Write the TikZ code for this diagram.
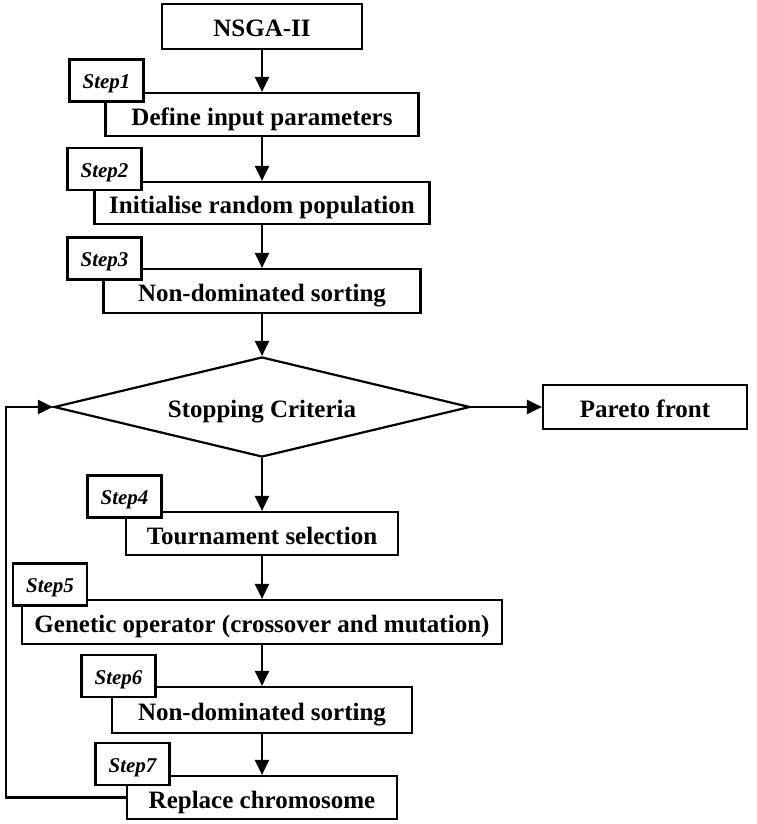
\documentclass[tikz,border=0pt]{standalone}
\usepackage{fontspec}
\setmainfont{Liberation Serif}
\usetikzlibrary{arrows.meta}
\usetikzlibrary{shapes}
\usetikzlibrary{positioning}

\begin{document}
\begin{tikzpicture}
    [
    x=1pt, y=-1pt, font=\fontsize{25}{28}\selectfont\bfseries,
    >={Triangle[length=15pt,width=14pt]},
    %Voreinstellungen fuer Kaesten und Pfeile
    box/.style={draw, line width=2.2pt, fill=white, minimum height=43pt, inner sep=0pt,
        text height=21pt, text depth=0pt},
    steptag/.style={draw, line width=2.2pt, fill=white, minimum width=74pt, minimum height=42pt,
        inner sep=0pt, text height=16pt, text depth=0pt, font=\fontsize{21}{24}\selectfont\bfseries\itshape},
    decision/.style={draw, diamond, line width=2.2pt, aspect=4.15, minimum width=416pt,
        minimum height=100pt, inner sep=0pt, text height=21pt, text depth=0pt},
    flow/.style={->, line width=2.2pt}
    ]
    
    %Rahmen
    \useasboundingbox (0,0) rectangle (756,824);
    
    %Kaesten
    \node[box, minimum width=200pt, minimum height=45pt] (start) at (262,26.5) {NSGA-II};
    \node[box, minimum width=313pt] (define) at (262,114.5) {Define input parameters};
    \node[box, minimum width=335pt, minimum height=42pt] (init) at (262,203) {Initialise random population};
    \node[box, minimum width=317pt, minimum height=44pt] (sort1) at (262,291) {Non-dominated sorting};
    \node[decision] (stop) at (262,407) {Stopping Criteria};
    \node[box, minimum width=204pt, minimum height=44pt] (pareto) at (645,407) {Pareto front};
    \node[box, minimum width=272pt] (tourn) at (262,533.5) {Tournament selection};
    \node[box, minimum width=480pt, minimum height=44pt] (genop) at (262,622) {Genetic operator (crossover and mutation)};
    \node[box, minimum width=300pt, minimum height=46pt] (sort2) at (262,710) {Non-dominated sorting};
    \node[box, minimum width=270pt] (repl) at (262,797.5) {Replace chromosome};
    
    %Pfeile
    \foreach \a/\b in {start/define, define/init, init/sort1, sort1/stop, stop/tourn, tourn/genop, genop/sort2, sort2/repl}
    \draw[flow] (\a) -- (\b);
    \draw[flow] (stop.east) -- (pareto.west);
    
    %Rueckfuehrung
    \coordinate (back) at (6,0);
    \draw[flow] (repl.west) -- (repl.west -| back) |- (stop.west);
    
    %Schritte
    \foreach \n/\x/\y in {1/106.5/80.5, 2/104.5/169, 3/104.5/258.5, 4/124.5/496.5, 5/50/584.5, 6/118.5/676, 7/132.5/764}
    \node[steptag] (step\n) at (\x,\y) {Step\n};
\end{tikzpicture}
\end{document}
